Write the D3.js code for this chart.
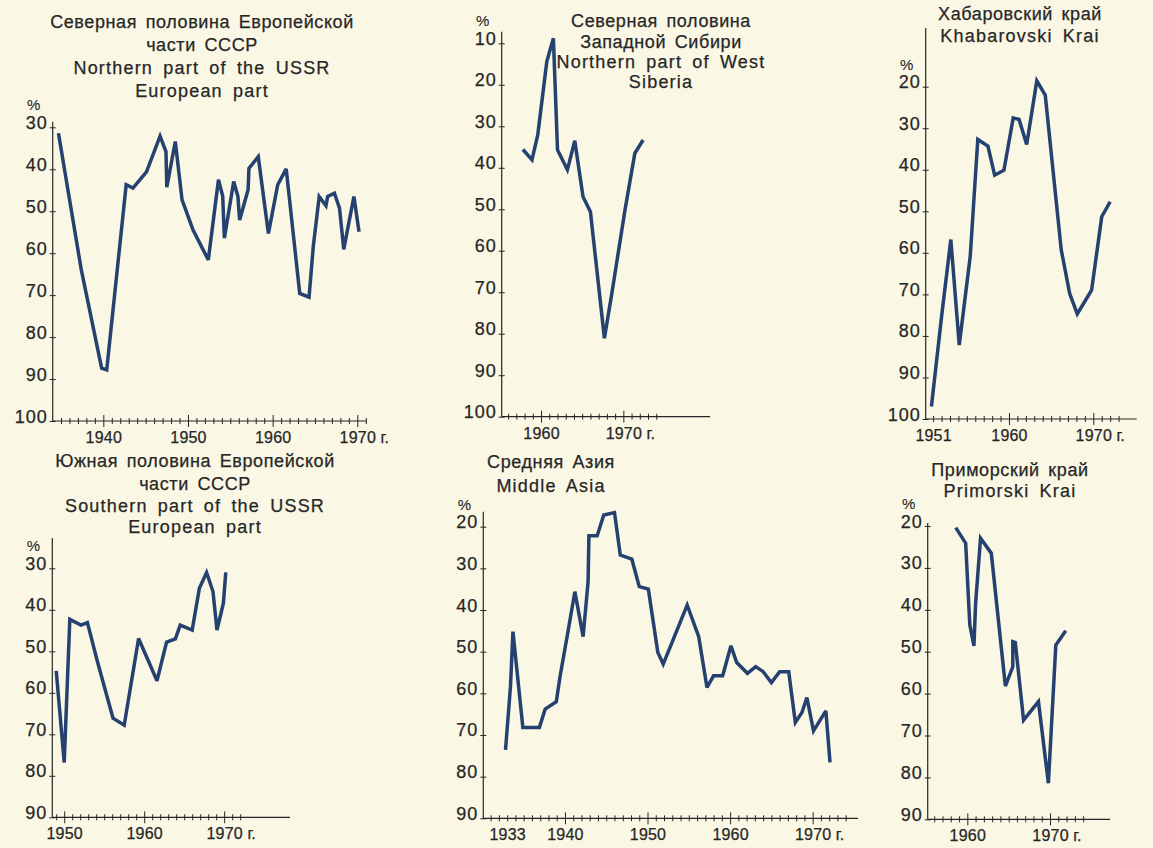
<!DOCTYPE html>
<html><head><meta charset="utf-8">
<script src="https://cdn.jsdelivr.net/npm/d3@7"></script>
<style>
html,body{margin:0;padding:0;background:#faf7e4;}
svg{display:block;}
text{font-family:"Liberation Sans", Arial, sans-serif; fill:#262626; stroke:#262626; stroke-width:0.25px;}
</style></head><body>
<svg id="c" width="1153" height="848"></svg>
<script>
// ---------- DATA ----------
// Panel 1: Северная половина Европейской части СССР
const titles1 = ["Северная половина Европейской", "части СССР", "Northern part of the USSR", "European part"];
const years1 = [1934.7,1937.4,1939.8,1940.4,1942.7,1943.5,1945.1,1946.7,1947.4,1947.5,1948.5,1949.3,1950.6,1952.4,1953.6,1954.1,1954.3,1955.4,1955.9,1956.1,1957.1,1957.2,1958.3,1959.5,1960.6,1961.6,1963.2,1964.3,1964.8,1965.5,1966.3,1966.5,1967.3,1967.9,1968.4,1969.6,1970.2];
const values1 = [31.4,64.0,87.4,87.8,43.7,44.5,40.6,32.1,35.8,44.3,33.4,47.3,54.5,61.6,42.5,46.4,56.4,42.9,46.5,52.1,44.9,39.8,37.0,55.3,43.7,39.9,69.6,70.5,58.4,46.5,48.7,46.5,45.7,49.3,59.1,46.5,54.9];
const xLabels1 = [1940, 1950, 1960, 1970];
const yTicks1 = [30, 40, 50, 60, 70, 80, 90, 100];

// Panel 2: Северная половина Западной Сибири
const titles2 = ["Северная половина", "Западной Сибири", "Northern part of West", "Siberia"];
const years2 = [1957.8,1958.9,1959.6,1960.7,1961.5,1962.0,1963.2,1964.1,1965.1,1966.0,1967.7,1968.6,1970.2,1971.4,1972.4];
const values2 = [35.6,38.1,32.1,14.4,8.8,35.7,40.5,33.5,47.0,50.6,81.1,70.3,50.2,36.5,33.3];
const xLabels2 = [1960, 1970];
const yTicks2 = [10, 20, 30, 40, 50, 60, 70, 80, 90, 100];

// Panel 3: Хабаровский край
const titles3 = ["Хабаровский край", "Khabarovski Krai"];
const years3 = [1950.8,1952.0,1953.1,1954.1,1955.4,1956.3,1957.5,1958.3,1959.4,1960.5,1961.2,1962.1,1963.3,1964.3,1966.2,1967.2,1968.1,1969.8,1971.0,1972.0];
const values3 = [97.0,75.4,56.8,82.2,60.9,32.7,34.3,41.3,40.1,27.5,27.9,33.9,18.6,22.0,59.3,69.8,74.7,69.0,51.3,47.7];
const xLabels3 = [1951, 1960, 1970];
const yTicks3 = [20, 30, 40, 50, 60, 70, 80, 90, 100];

// Panel 4: Южная половина Европейской части СССР
const titles4 = ["Южная половина Европейской", "части СССР", "Southern part of the USSR", "European part"];
const years4 = [1949.0,1950.0,1950.7,1952.1,1952.9,1954.1,1956.1,1957.5,1959.3,1961.6,1962.8,1963.9,1964.5,1966.0,1966.9,1967.8,1968.6,1969.1,1969.9,1970.2];
const values4 = [54.7,76.8,42.3,43.7,43.1,52.1,66.1,67.8,46.9,57.1,47.8,47.0,43.7,44.9,34.8,31.0,35.6,44.9,38.4,31.0];
const xLabels4 = [1950, 1960, 1970];
const yTicks4 = [30, 40, 50, 60, 70, 80, 90];

// Panel 5: Средняя Азия
const titles5 = ["Средняя Азия", "Middle Asia"];
const years5 = [1932.8,1933.4,1933.7,1934.9,1936.9,1937.6,1938.95,1939.4,1940.4,1941.2,1942.2,1942.8,1942.9,1943.9,1944.7,1946.0,1946.7,1948.1,1949.0,1950.1,1951.25,1951.9,1954.8,1956.2,1957.2,1958.0,1959.1,1960.1,1960.8,1962.1,1963.1,1964.0,1965.0,1966.0,1967.1,1967.9,1968.7,1969.3,1970.1,1971.6,1972.1];
const values5 = [73.6,58.4,45.2,68.2,68.2,63.8,62.0,56.0,44.8,35.6,46.4,33.2,22.2,22.2,17.2,16.6,26.8,27.8,34.4,35.0,50.2,53.0,38.8,46.4,58.6,55.8,55.8,48.6,52.6,55.2,53.6,54.8,57.4,54.8,54.8,67.0,64.6,61.0,69.0,64.2,76.6];
const xLabels5 = [1933, 1940, 1950, 1960, 1970];
const yTicks5 = [20, 30, 40, 50, 60, 70, 80, 90];

// Panel 6: Приморский край
const titles6 = ["Приморский край", "Primorski Krai"];
const years6 = [1958.6,1959.8,1960.3,1960.8,1961.0,1961.6,1962.9,1964.6,1965.5,1965.5,1965.8,1966.8,1968.6,1969.8,1970.7,1971.9];
const values6 = [20.4,24.1,43.6,48.6,38.5,22.9,26.5,58.2,53.6,47.6,47.8,66.3,61.9,81.4,48.4,45.0];
const xLabels6 = [1960, 1970];
const yTicks6 = [20, 30, 40, 50, 60, 70, 80, 90];

const yearSuffix = "г.";
const unitLabel = "%";

// ---------- LAYOUT ----------
const panels = [
  {titles: titles1, years: years1, values: values1, xLabels: xLabels1, yTicks: yTicks1,
   L: {ax: 52.7, ar: 366.7, xd: [1934.02, 1971.11], yr: [127.3, 421], yTop: 121.7, tick0: 1935, tick1: 1971,
       tx: 202, ty: [28.3, 51.3, 74, 96.7]}},
  {titles: titles2, years: years2, values: values2, xLabels: xLabels2, yTicks: yTicks2,
   L: {ax: 501.7, ar: 710, xd: [1955.22, 1980.53], yr: [43.3, 416.7], yTop: 31.7, tick0: 1956, tick1: 1974,
       tx: 661, ty: [26.7, 47.7, 68.3, 88.3]}},
  {titles: titles3, years: years3, values: values3, xLabels: xLabels3, yTicks: yTicks3,
   L: {ax: 925.7, ar: 1136.7, xd: [1950.12, 1975.15], yr: [86.7, 419], yTop: 28, tick0: 1951, tick1: 1973,
       tx: 1020, ty: [20, 41.7]}},
  {titles: titles4, years: years4, values: values4, xLabels: xLabels4, yTicks: yTicks4,
   L: {ax: 52.3, ar: 290, xd: [1948.51, 1978.23], yr: [568.3, 817.3], yTop: 538, tick0: 1949, tick1: 1972,
       tx: 195, ty: [466.7, 489.5, 511.7, 533.3]}},
  {titles: titles5, years: years5, values: values5, xLabels: xLabels5, yTicks: yTicks5,
   L: {ax: 483.3, ar: 858, xd: [1930.11, 1975.49], yr: [526.7, 818.3], yTop: 511.7, tick0: 1931, tick1: 1974,
       tx: 551, ty: [468.3, 491.7]}},
  {titles: titles6, years: years6, values: values6, xLabels: xLabels6, yTicks: yTicks6,
   L: {ax: 927.7, ar: 1110, xd: [1955.21, 1977.25], yr: [526, 819.3], yTop: 523, tick0: 1956, tick1: 1974,
       tx: 1010, ty: [476, 496.7]}}
];

const INK = "#262626";
const LINE = "#24416f";
const FONT = '"Liberation Sans", Arial, sans-serif';

const svg = d3.select("#c");
svg.append("rect").attr("width", 1153).attr("height", 848).attr("fill", "#faf7e4");

panels.forEach(p => {
  const L = p.L;
  const x = d3.scaleLinear().domain(L.xd).range([L.ax, L.ar]);
  const yd = [p.yTicks[0], p.yTicks[p.yTicks.length - 1]];
  const y = d3.scaleLinear().domain(yd).range(L.yr);
  const base = y(yd[1]);
  const g = svg.append("g");

  // title
  p.titles.forEach((t, i) => {
    const latin = /[A-Za-z]/.test(t);
    g.append("text").attr("x", L.tx).attr("y", L.ty[i]).attr("text-anchor", "middle")
      .style("font-size", "18px")
      .style("letter-spacing", latin ? "1.2px" : "0.6px")
      .style("word-spacing", latin ? "4px" : "3px")
      .text(t);
  });

  // axis lines
  g.append("line").attr("x1", L.ax).attr("x2", L.ax).attr("y1", L.yTop).attr("y2", base)
    .attr("stroke", INK).attr("stroke-width", 1.2);
  g.append("line").attr("x1", L.ax).attr("x2", L.ar).attr("y1", base).attr("y2", base)
    .attr("stroke", INK).attr("stroke-width", 1.2);

  // x axis (ticks every year)
  const allYears = d3.range(L.tick0, L.tick1 + 1);
  const xa = d3.axisBottom(x).tickValues(allYears).tickSize(0).tickPadding(0)
    .tickFormat(d => p.xLabels.includes(d) ? String(d) : "");
  const gx = g.append("g").attr("transform", `translate(0,${base})`).call(xa);
  gx.select(".domain").remove();
  gx.selectAll(".tick line")
    .attr("y1", d => (d % 10 === 0) ? -6 : -3)
    .attr("y2", d => (d % 10 === 0) ? 6 : 3)
    .attr("stroke", INK).attr("stroke-width", 1);
  gx.selectAll(".tick text").attr("y", 22).attr("dy", null)
    .style("font-size", "16px").style("letter-spacing", "0.2px")
    .attr("fill", INK).style("font-family", FONT);
  // "г." after the last labelled year
  const lastYear = p.xLabels[p.xLabels.length - 1];
  const lastText = gx.selectAll(".tick text").filter(d => d === lastYear).node();
  const w = lastText.getComputedTextLength();
  g.append("text").attr("x", x(lastYear) + w / 2 + 5).attr("y", base + 22)
    .style("font-size", "16px").text(yearSuffix);

  // y axis
  const ya = d3.axisLeft(y).tickValues(p.yTicks).tickSize(0).tickPadding(0).tickFormat(d => String(d));
  const gy = g.append("g").attr("transform", `translate(${L.ax},0)`).call(ya);
  gy.select(".domain").remove();
  gy.selectAll(".tick line").attr("x1", -3).attr("x2", 3).attr("stroke", INK).attr("stroke-width", 1);
  gy.selectAll(".tick text").attr("x", -5).attr("y", 1).attr("dy", null)
    .style("font-size", "18px").style("letter-spacing", "1px")
    .attr("fill", INK).style("font-family", FONT);

  // % label
  g.append("text").attr("x", L.ax - 19).attr("y", y(yd[0]) - 17).attr("text-anchor", "middle")
    .style("font-size", "15px").style("stroke-width", "0.1px").text(unitLabel);

  // series
  const pts = p.years.map((yr, i) => ({year: yr, value: p.values[i]}));
  const line = d3.line().x(d => x(d.year)).y(d => y(d.value));
  g.append("path").datum(pts).attr("d", line).attr("fill", "none")
    .attr("stroke", LINE).attr("stroke-width", 3.5).attr("stroke-linejoin", "miter")
    .attr("stroke-miterlimit", 3).attr("stroke-linecap", "butt");
});
</script>
</body></html>
